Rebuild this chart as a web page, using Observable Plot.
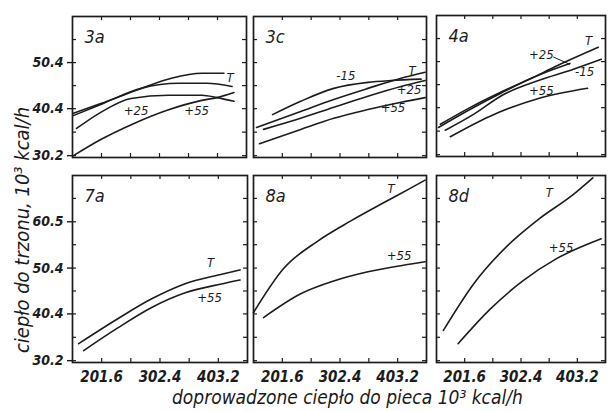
<!DOCTYPE html>
<html><head><meta charset="utf-8">
<script src="https://cdn.jsdelivr.net/npm/d3@7"></script>
<script src="https://cdn.jsdelivr.net/npm/@observablehq/plot@0.6"></script>
<style>
body{margin:0;background:#fff;}
#c{position:relative;width:608px;height:411px;overflow:hidden;background:#fff;}
#c svg{position:absolute;overflow:visible;background:none;}
.ttl{position:absolute;font-family:"Liberation Sans Narrow","DejaVu Sans Condensed",sans-serif;font-style:italic;color:#1a1a1a;white-space:nowrap;}
</style></head><body><div id="c"></div>
<script>
// axes
const xDomain = [151.2, 453.6];
const xTicks = [201.6, 252, 302.4, 352.8, 403.2];
const xTickLabels = [201.6, 302.4, 403.2];
const yTopDomain = [29.8, 60.4];
const yBotDomain = [29.8, 70.6];
const yTopTicks = [30.2, 35.3, 40.4, 45.4, 50.4, 55.4];
const yBotTicks = [30.2, 35.3, 40.4, 45.4, 50.4, 55.5, 60.5, 65.6];
const yTopLabels = [30.2, 40.4, 50.4];
const yBotLabels = [30.2, 40.4, 50.4, 60.5];
const panelNames = ["3a", "3c", "4a", "7a", "8a", "8d"];

// series: [x, y]
const s3a_T   = [[152.9,39.4],[200.3,41.5],[270.5,44.8],[323,47],[375.8,48.1],[414.4,48.1]];
const s3a_m15 = [[152.9,38.9],[200.3,41.3],[270.5,44.8],[335.4,45.9],[384.5,45.9],[428.4,45.2]];
const s3a_25  = [[158.2,36.1],[200.3,39.6],[253,42.6],[317.9,43.3],[375.8,43.3],[402.1,42.8],[431.9,42]];
const s3a_55  = [[152.9,30.2],[200.3,33.7],[258.2,37.2],[314.4,40],[375.8,42.2],[402.1,42.8],[431.9,43.9]];

const s3c_T   = [[156.5,36.3],[233.7,39.8],[291.5,42.4],[351.2,44.8],[409.1,47],[451.2,48.3]];
const s3c_m15 = [[184.5,39.1],[233.7,42],[291.5,44.8],[351.2,46.1],[391.5,46.5],[444.2,46.8]];
const s3c_25  = [[168.7,35.9],[233.7,38.3],[291.5,40.7],[351.2,43.1],[409.1,45.2],[451.2,46.5]];
const s3c_55  = [[161.7,32.8],[233.7,35.9],[291.5,38.3],[351.2,40.2],[409.1,41.8],[451.2,42.8]];

const s4a_T   = [[158.2,36.8],[210.9,40.4],[268.8,43.9],[316.1,46.5],[368.8,49.6],[440.7,53.5]];
const s4a_25  = [[154.7,36.1],[210.9,40],[268.8,43.7],[316.1,46.5],[351.2,48.3],[389.8,50]];
const s4a_m15 = [[167,35.5],[219.6,39.1],[268.8,43.1],[333.7,46.3],[395.1,48.7],[446,50.9]];
const s4a_55  = [[175.9,34.1],[246.1,38.5],[333.7,42.4],[421.4,44.6]];

const s7a_T   = [[161.7,33.9],[230.1,39.4],[288,43.7],[345.9,47],[410.9,49.1],[440.7,50]];
const s7a_55  = [[170.5,32.4],[230.1,37.4],[288,41.8],[345.9,45],[410.9,47],[440.7,47.8]];

const s8a_T   = [[151.2,40.7],[203.8,50.3],[263.5,56.3],[321.4,60.7],[379.3,64.7],[426.6,67.9],[451.2,69.6]];
const s8a_55  = [[168.7,39.6],[233.7,44.8],[291.5,47.6],[351.2,49.6],[426.6,51.3],[451.2,51.8]];

const s8d_T   = [[163.5,36.8],[217.9,47],[277.5,55.2],[335.4,61.2],[393.3,66.2],[431,70.1]];
const s8d_55  = [[189.8,33.9],[247.7,41.5],[305.6,47.6],[365.2,52.4],[445.9,56.8]];

// curve labels: [text, x, y]
const l3a = [["T",424.9,47],["+25",261.7,40],["+55",367,40]];
const l3c = [["-15",312.6,47.6],["T",428.4,48.7],["+25",423,44.4],["+55",395,40.5]];
const l4a = [["T",423.1,54.8],["+25",338.9,51.8],["-15",416.1,48.1],["+55",338.9,44.1]];
const l7a = [["T",389.8,51.5],["+55",388,43.9]];
const l8a = [["T",391.5,67.6],["+55",405.6,53.1]];
const l8d = [["T",353,66.8],["+55",374,54.8]];
const lead4a = [[360,51.4,389.8,49.8]];

const FONT = '"Liberation Sans Narrow","DejaVu Sans Condensed",sans-serif';
const INK = "#1c1c1c";

const panels = [
  {name:panelNames[0], left:72,  top:16,  w:174, h:141, yd:yTopDomain, yt:yTopTicks, yl:yTopLabels, xl:false, series:[s3a_T,s3a_m15,s3a_25,s3a_55], labels:l3a},
  {name:panelNames[1], left:253, top:16,  w:173, h:141, yd:yTopDomain, yt:yTopTicks, yl:null, xl:false, series:[s3c_T,s3c_m15,s3c_25,s3c_55], labels:l3c},
  {name:panelNames[2], left:436, top:15,  w:169, h:141, yd:yTopDomain, yt:yTopTicks, yl:null, xl:false, series:[s4a_T,s4a_25,s4a_m15,s4a_55], labels:l4a, leads:lead4a},
  {name:panelNames[3], left:72,  top:175, w:175, h:187, yd:yBotDomain, yt:yBotTicks, yl:yBotLabels, xl:true, series:[s7a_T,s7a_55], labels:l7a},
  {name:panelNames[4], left:253, top:175, w:173, h:187, yd:yBotDomain, yt:yBotTicks, yl:null, xl:true, series:[s8a_T,s8a_55], labels:l8a},
  {name:panelNames[5], left:436, top:175, w:169, h:187, yd:yBotDomain, yt:yBotTicks, yl:null, xl:true, series:[s8d_T,s8d_55], labels:l8d},
];

const c = document.getElementById("c");
const mL = 45, mR = 3, mT = 3, mB = 28;
for (const p of panels) {
  const marks = [
    Plot.frame({stroke: INK, strokeWidth: 1.7}),
    Plot.ruleX(xTicks, {x: d => d, insetTop: p.h - 4, stroke: INK, strokeWidth: 1.2}),
    Plot.ruleX(xTicks, {x: d => d, insetBottom: p.h - 4, stroke: INK, strokeWidth: 1.2}),
    Plot.ruleY(p.yt, {y: d => d, insetRight: p.w - 4, stroke: INK, strokeWidth: 1.2}),
    Plot.ruleY(p.yt, {y: d => d, insetLeft: p.w - 4, stroke: INK, strokeWidth: 1.2}),
    ...p.series.map(s => Plot.line(s, {x: d => d[0], y: d => d[1], curve: "monotone-x", stroke: INK, strokeWidth: 1.6})),
    Plot.text(p.labels, {x: d => d[1], y: d => d[2], text: d => d[0], fontSize: 13, fontStyle: "italic", fill: INK, fontFamily: FONT}),
    Plot.text([p.name], {frameAnchor: "top-left", dx: 12, dy: 14, text: d => d, fontSize: 18, fontStyle: "italic", fill: INK, fontFamily: FONT, textAnchor: "start"})
  ];
  if (p.leads) marks.push(Plot.link(p.leads, {x1: d => d[0], y1: d => d[1], x2: d => d[2], y2: d => d[3], stroke: INK, strokeWidth: 1}));
  if (p.yl) marks.push(Plot.axisY(p.yl, {anchor: "left", tickSize: 5, tickPadding: 4, tickFormat: d => d.toFixed(1), fontSize: 14, fontWeight: "bold", fontStyle: "italic", fontFamily: FONT, fill: INK, stroke: INK, strokeWidth: 1.4}));
  if (p.xl) marks.push(Plot.axisX(xTickLabels, {anchor: "bottom", tickSize: 0, tickPadding: 9, tickFormat: d => d.toFixed(1), fontSize: 15, fontWeight: "bold", fontStyle: "italic", fontFamily: FONT, fill: INK}));
  const svg = Plot.plot({
    width: p.w + mL + mR, height: p.h + mT + mB,
    marginLeft: mL, marginRight: mR, marginTop: mT, marginBottom: mB,
    x: {domain: xDomain, axis: null},
    y: {domain: p.yd, axis: null},
    style: {background: "none", color: INK, fontFamily: FONT},
    marks
  });
  svg.style.left = (p.left - mL) + "px";
  svg.style.top = (p.top - mT) + "px";
  c.appendChild(svg);
}
// axis titles
const xt = document.createElement("div");
xt.className = "ttl";
xt.textContent = "doprowadzone ciepło do pieca 10³ kcal/h";
xt.style.cssText = "left:172px;top:386px;font-size:19px;";
c.appendChild(xt);
const yt = document.createElement("div");
yt.className = "ttl";
yt.textContent = "ciepło do trzonu, 10³ kcal/h";
yt.style.cssText = "left:22px;top:230px;font-size:20px;transform:translate(-50%,-50%) rotate(-90deg);";
c.appendChild(yt);
</script></body></html>
